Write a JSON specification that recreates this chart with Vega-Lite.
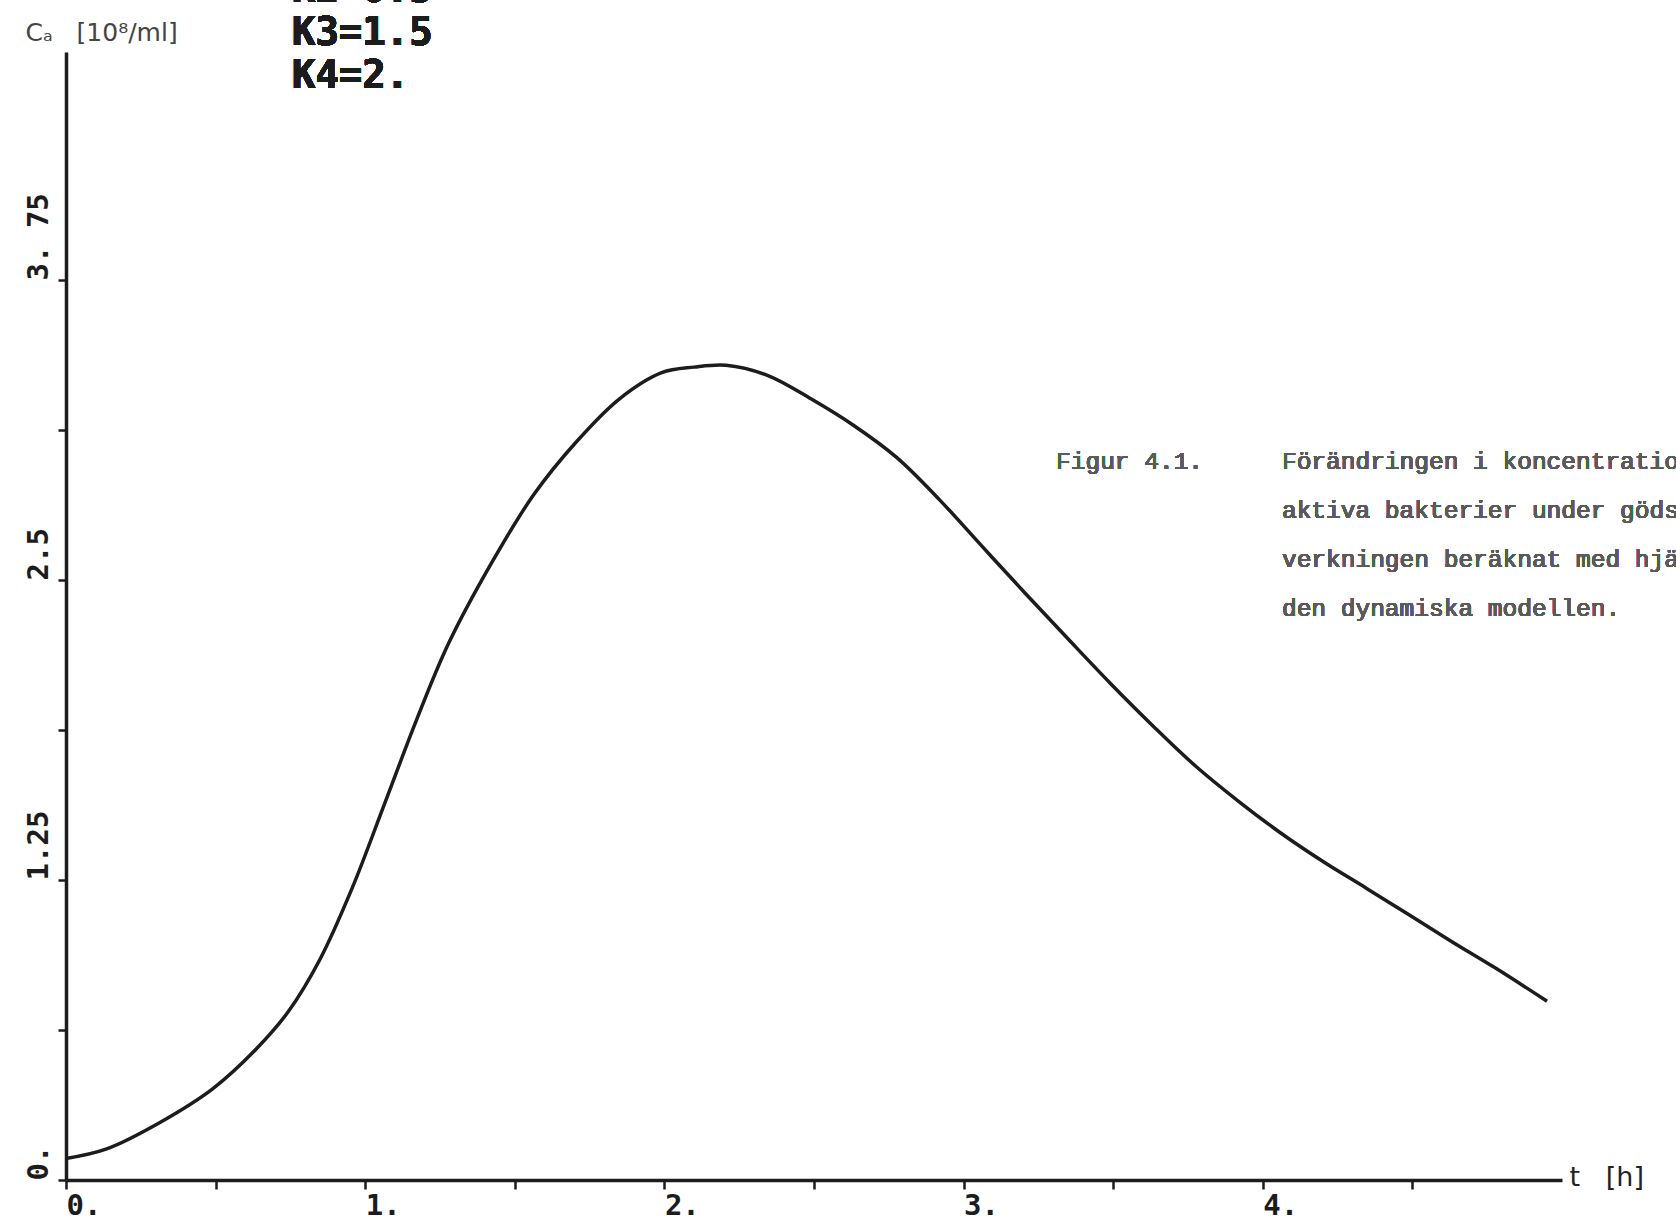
{
  "$schema": "https://vega.github.io/schema/vega-lite/v6.json",
  "autosize": {"type": "none"},
  "width": 1496,
  "height": 1128,
  "padding": {"left": 66, "top": 52, "right": 114, "bottom": 47},
  "background": "white",
  "config": {"view": {"stroke": null}},
  "data": {"values": [
    {"t": 0.0, "c": 0.09},
    {"t": 0.136, "c": 0.13},
    {"t": 0.314, "c": 0.24},
    {"t": 0.49, "c": 0.38},
    {"t": 0.635, "c": 0.545},
    {"t": 0.742, "c": 0.70},
    {"t": 0.849, "c": 0.92},
    {"t": 0.956, "c": 1.215},
    {"t": 1.064, "c": 1.565},
    {"t": 1.171, "c": 1.915},
    {"t": 1.278, "c": 2.234},
    {"t": 1.42, "c": 2.566},
    {"t": 1.563, "c": 2.855},
    {"t": 1.706, "c": 3.076},
    {"t": 1.849, "c": 3.254},
    {"t": 1.991, "c": 3.364},
    {"t": 2.099, "c": 3.387},
    {"t": 2.206, "c": 3.395},
    {"t": 2.348, "c": 3.351},
    {"t": 2.491, "c": 3.254},
    {"t": 2.634, "c": 3.143},
    {"t": 2.777, "c": 3.01},
    {"t": 2.919, "c": 2.835},
    {"t": 3.062, "c": 2.64},
    {"t": 3.205, "c": 2.446},
    {"t": 3.348, "c": 2.256},
    {"t": 3.49, "c": 2.07},
    {"t": 3.633, "c": 1.892},
    {"t": 3.776, "c": 1.724},
    {"t": 3.919, "c": 1.578},
    {"t": 4.061, "c": 1.445},
    {"t": 4.204, "c": 1.325},
    {"t": 4.347, "c": 1.215},
    {"t": 4.49, "c": 1.104},
    {"t": 4.632, "c": 0.993},
    {"t": 4.775, "c": 0.885},
    {"t": 4.95, "c": 0.745}
  ]},
  "layer": [
    {
      "mark": {"type": "line", "color": "#1c1c1c", "strokeWidth": 3.5, "interpolate": "catmull-rom"},
      "encoding": {
        "x": {"field": "t", "type": "quantitative",
          "scale": {"domain": [0, 5], "nice": false, "zero": false},
          "axis": {
            "values": [0, 0.5, 1, 1.5, 2, 2.5, 3, 3.5, 4, 4.5],
            "labelExpr": "datum.value % 1 == 0 ? format(datum.value, 'd') + '.' : ''",
            "grid": false,
            "domainColor": "#1c1c1c", "domainWidth": 3.5,
            "tickColor": "#1c1c1c", "tickWidth": 2.5, "tickSize": 9,
            "labelFont": "DejaVu Sans Mono", "labelFontWeight": "bold", "labelFontSize": 29,
            "labelColor": "#1c1c1c", "labelAlign": "left", "labelDx": -6, "labelPadding": 2,
            "labelBaseline": "top", "labelFlush": false, "labelOverlap": false,
            "title": "t\u00a0\u00a0\u00a0[h]",
            "titleFont": "DejaVu Sans", "titleFontWeight": "normal", "titleFontSize": 27, "titleColor": "#222",
            "titleAlign": "left", "titleBaseline": "middle", "titleAnchor": null,
            "titleX": 1503, "titleY": -3
          }
        },
        "y": {"field": "c", "type": "quantitative",
          "scale": {"domain": [0, 4.7], "nice": false, "zero": true},
          "axis": {
            "values": [0, 0.625, 1.25, 1.875, 2.5, 3.125, 3.75],
            "labelExpr": "datum.value == 0 ? '0.' : datum.value == 1.25 ? '1.25' : datum.value == 2.5 ? '2.5' : datum.value == 3.75 ? '3. 75' : ''",
            "grid": false,
            "domainColor": "#1c1c1c", "domainWidth": 3.5,
            "tickColor": "#1c1c1c", "tickWidth": 2.5, "tickSize": 8,
            "labelFont": "DejaVu Sans Mono", "labelFontWeight": "bold", "labelFontSize": 29,
            "labelColor": "#1c1c1c", "labelAngle": 270, "labelAlign": "left", "labelBaseline": "bottom",
            "labelDx": -10, "labelPadding": 5, "labelFlush": false, "labelOverlap": false,
            "title": "Cₐ\u00a0\u00a0\u00a0[10⁸/ml]",
            "titleFont": "DejaVu Sans", "titleFontWeight": "normal", "titleFontSize": 25, "titleColor": "#444",
            "titleAngle": 0, "titleAlign": "left", "titleBaseline": "middle", "titleAnchor": null,
            "titleX": -41, "titleY": -20
          }
        }
      }
    },
    {
      "mark": {"type": "text", "font": "DejaVu Sans Mono", "fontWeight": "bold", "fontSize": 39, "align": "left", "baseline": "middle", "lineHeight": 43, "color": "#1c1c1c"},
      "encoding": {"x": {"datum": 0.755}, "y": {"datum": 4.96}, "text": {"value": ["K2=0.5", "K3=1.5", "K4=2."]}}
    },
    {
      "mark": {"type": "text", "font": "Liberation Mono", "fontSize": 24.5, "align": "left", "baseline": "middle", "color": "#5a5a5a"},
      "encoding": {"x": {"datum": 3.309}, "y": {"datum": 2.99}, "text": {"value": "Figur 4.1."}}
    },
    {
      "mark": {"type": "text", "font": "Liberation Mono", "fontSize": 24.5, "align": "left", "baseline": "middle", "color": "#5a5a5a"},
      "encoding": {"x": {"datum": 4.064}, "y": {"datum": 2.99}, "text": {"value": "Förändringen i koncentration av"}}
    },
    {
      "mark": {"type": "text", "font": "Liberation Mono", "fontSize": 24.5, "align": "left", "baseline": "middle", "color": "#5a5a5a"},
      "encoding": {"x": {"datum": 4.064}, "y": {"datum": 2.786}, "text": {"value": "aktiva bakterier under gödsel-"}}
    },
    {
      "mark": {"type": "text", "font": "Liberation Mono", "fontSize": 24.5, "align": "left", "baseline": "middle", "color": "#5a5a5a"},
      "encoding": {"x": {"datum": 4.064}, "y": {"datum": 2.582}, "text": {"value": "verkningen beräknat med hjälp av"}}
    },
    {
      "mark": {"type": "text", "font": "Liberation Mono", "fontSize": 24.5, "align": "left", "baseline": "middle", "color": "#5a5a5a"},
      "encoding": {"x": {"datum": 4.064}, "y": {"datum": 2.378}, "text": {"value": "den dynamiska modellen."}}
    }
  ]
}
